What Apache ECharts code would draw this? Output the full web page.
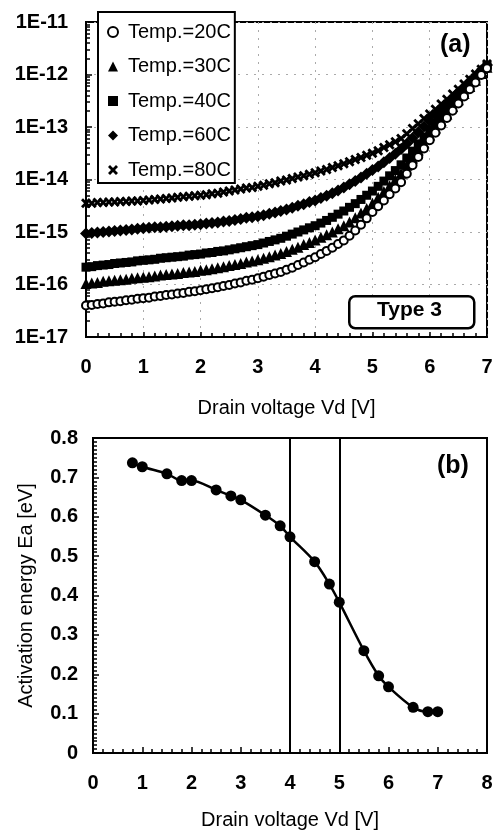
<!DOCTYPE html>
<html>
<head>
<meta charset="utf-8">
<script src="https://cdn.jsdelivr.net/npm/echarts@6/dist/echarts.min.js"></script>
<style>
  html, body { margin: 0; padding: 0; background: #fff; }
  #chart { width: 496px; height: 834px; }
</style>
</head>
<body>
<div id="chart"></div>
<script>
  // (a) drain voltage steps, V
  var vd = [0, 0.1, 0.2, 0.3, 0.4, 0.5, 0.6, 0.7, 0.8, 0.9,
    1, 1.1, 1.2, 1.3, 1.4, 1.5, 1.6, 1.7, 1.8, 1.9,
    2, 2.1, 2.2, 2.3, 2.4, 2.5, 2.6, 2.7, 2.8, 2.9,
    3, 3.1, 3.2, 3.3, 3.4, 3.5, 3.6, 3.7, 3.8, 3.9,
    4, 4.1, 4.2, 4.3, 4.4, 4.5, 4.6, 4.7, 4.8, 4.9,
    5, 5.1, 5.2, 5.3, 5.4, 5.5, 5.6, 5.7, 5.8, 5.9,
    6, 6.1, 6.2, 6.3, 6.4, 6.5, 6.6, 6.7, 6.8, 6.9, 7]

  // (a) current, stored as log10(I)
  var logI20 = [-16.40, -16.39, -16.37, -16.36, -16.34, -16.33, -16.32, -16.30, -16.29, -16.27,
    -16.26, -16.25, -16.23, -16.22, -16.20, -16.19, -16.17, -16.16, -16.14, -16.13,
    -16.11, -16.09, -16.07, -16.05, -16.03, -16.01, -15.98, -15.96, -15.93, -15.91,
    -15.88, -15.85, -15.82, -15.79, -15.76, -15.72, -15.68, -15.63, -15.58, -15.53,
    -15.48, -15.42, -15.36, -15.30, -15.23, -15.16, -15.07, -14.97, -14.86, -14.74,
    -14.62, -14.51, -14.40, -14.28, -14.17, -14.05, -13.89, -13.73, -13.57, -13.41,
    -13.25, -13.11, -12.97, -12.83, -12.69, -12.55, -12.42, -12.28, -12.15, -12.01, -11.88]
  var logI30 = [-15.98, -15.97, -15.96, -15.94, -15.93, -15.92, -15.91, -15.90, -15.88, -15.87,
    -15.86, -15.85, -15.84, -15.82, -15.81, -15.80, -15.79, -15.77, -15.76, -15.75,
    -15.73, -15.72, -15.70, -15.68, -15.66, -15.64, -15.62, -15.60, -15.57, -15.55,
    -15.53, -15.50, -15.47, -15.44, -15.41, -15.37, -15.33, -15.29, -15.24, -15.20,
    -15.15, -15.10, -15.05, -15.00, -14.94, -14.88, -14.81, -14.73, -14.64, -14.55,
    -14.45, -14.34, -14.23, -14.12, -14.00, -13.88, -13.73, -13.59, -13.44, -13.30,
    -13.15, -13.02, -12.88, -12.75, -12.61, -12.48, -12.36, -12.23, -12.11, -11.98, -11.86]
  var logI40 = [-15.67, -15.66, -15.64, -15.63, -15.62, -15.60, -15.59, -15.58, -15.57, -15.55,
    -15.54, -15.53, -15.52, -15.50, -15.49, -15.48, -15.47, -15.46, -15.44, -15.43,
    -15.42, -15.40, -15.39, -15.37, -15.36, -15.34, -15.32, -15.30, -15.28, -15.26,
    -15.24, -15.21, -15.18, -15.15, -15.12, -15.08, -15.04, -15.00, -14.96, -14.92,
    -14.88, -14.83, -14.78, -14.72, -14.66, -14.60, -14.53, -14.46, -14.38, -14.30,
    -14.22, -14.13, -14.03, -13.93, -13.83, -13.72, -13.59, -13.46, -13.32, -13.19,
    -13.05, -12.92, -12.80, -12.67, -12.55, -12.42, -12.30, -12.19, -12.07, -11.96, -11.84]
  var logI60 = [-15.03, -15.02, -15.01, -15.00, -14.99, -14.98, -14.97, -14.96, -14.95, -14.94,
    -14.93, -14.92, -14.91, -14.91, -14.90, -14.89, -14.88, -14.87, -14.87, -14.86,
    -14.85, -14.84, -14.83, -14.82, -14.80, -14.79, -14.77, -14.75, -14.73, -14.72,
    -14.70, -14.68, -14.65, -14.63, -14.60, -14.57, -14.54, -14.50, -14.47, -14.43,
    -14.40, -14.35, -14.31, -14.26, -14.21, -14.15, -14.09, -14.03, -13.96, -13.89,
    -13.82, -13.75, -13.67, -13.59, -13.51, -13.42, -13.32, -13.21, -13.10, -12.99,
    -12.88, -12.77, -12.66, -12.55, -12.45, -12.34, -12.24, -12.13, -12.03, -11.92, -11.82]
  var logI80 = [-14.45, -14.45, -14.44, -14.44, -14.43, -14.43, -14.42, -14.42, -14.41, -14.41,
    -14.40, -14.39, -14.38, -14.37, -14.36, -14.35, -14.34, -14.33, -14.32, -14.31,
    -14.30, -14.29, -14.27, -14.26, -14.24, -14.22, -14.20, -14.18, -14.16, -14.15,
    -14.13, -14.11, -14.08, -14.06, -14.03, -14.01, -13.98, -13.95, -13.93, -13.90,
    -13.87, -13.84, -13.81, -13.77, -13.74, -13.70, -13.66, -13.62, -13.58, -13.54,
    -13.50, -13.45, -13.39, -13.34, -13.28, -13.22, -13.13, -13.03, -12.94, -12.84,
    -12.75, -12.66, -12.56, -12.47, -12.37, -12.28, -12.18, -12.09, -11.99, -11.90, -11.80]

  var tempNames = ['Temp.=20C', 'Temp.=30C', 'Temp.=40C', 'Temp.=60C', 'Temp.=80C']

  // (b) activation energy
  var vdEa = [0.8, 1.0, 1.5, 1.8, 2.0, 2.5, 2.8, 3.0, 3.5, 3.8, 4.0, 4.5, 4.8, 5.0, 5.5, 5.8, 6.0, 6.5, 6.8, 7.0]
  var ea = [0.737, 0.727, 0.709, 0.692, 0.692, 0.668, 0.653, 0.643, 0.604, 0.577,
    0.549, 0.486, 0.429, 0.383, 0.260, 0.196, 0.168, 0.116, 0.105, 0.105]
  var vLines = [4, 5]

  var FONT = '"Liberation Sans", Arial, sans-serif'
  var crossPath = 'path://M0,2L2,0L5,3L8,0L10,2L7,5L10,8L8,10L5,7L2,10L0,8L3,5Z'

  function pairs(xs, logs) {
    return xs.map(function (x, i) { return [x, Math.pow(10, logs[i])] })
  }
  function pairsLin(xs, ys) {
    return xs.map(function (x, i) { return [x, ys[i]] })
  }

  var myChart = echarts.init(document.getElementById('chart'))
  var tickLabel = { color: '#000', fontSize: 20, fontWeight: 'bold', fontFamily: FONT }
  var axisName = { color: '#000', fontSize: 20, fontFamily: FONT }

  var option = {
    animation: false,
    backgroundColor: '#fff',
    grid: [
      { left: 86, right: 9, top: 22, height: 315, show: true, borderColor: '#000', borderWidth: 2 },
      { left: 93, right: 9, top: 438, height: 315, show: true, borderColor: '#000', borderWidth: 2 }
    ],
    legend: {
      data: tempNames,
      orient: 'vertical',
      left: 98,
      top: 12,
      padding: [10, 4, 3, 9],
      itemGap: 14.5,
      itemWidth: 10,
      itemHeight: 10,
      selectedMode: false,
      backgroundColor: '#fff',
      borderColor: '#000',
      borderWidth: 2,
      z: 20,
      textStyle: { color: '#000', fontSize: 20, fontFamily: FONT, padding: [0, 0, 0, 5] }
    },
    xAxis: [{
      gridIndex: 0, type: 'value', min: 0, max: 7, interval: 1,
      name: 'Drain voltage Vd [V]', nameLocation: 'middle', nameGap: 61, nameTextStyle: axisName,
      axisLine: { lineStyle: { color: '#000', width: 2 } },
      axisTick: { inside: true, length: 5, lineStyle: { color: '#000', width: 1.5 } },
      minorTick: { show: true, splitNumber: 5, length: 4, lineStyle: { color: '#000', width: 1.5 } },
      axisLabel: Object.assign({ margin: 20 }, tickLabel),
      splitLine: { show: true, lineStyle: { color: '#aaa', type: [2, 6] } }
    }, {
      gridIndex: 1, type: 'value', min: 0, max: 8, interval: 1,
      name: 'Drain voltage Vd [V]', nameLocation: 'middle', nameGap: 57, nameTextStyle: axisName,
      axisLine: { lineStyle: { color: '#000', width: 2 } },
      axisTick: { inside: true, length: 6, lineStyle: { color: '#000', width: 1.5 } },
      minorTick: { show: true, splitNumber: 5, length: 4, lineStyle: { color: '#000', width: 1.5 } },
      axisLabel: Object.assign({ margin: 20 }, tickLabel),
      splitLine: { show: false }
    }],
    yAxis: [{
      gridIndex: 0, type: 'log', logBase: 10, min: 1e-17, max: 1e-11,
      axisLine: { lineStyle: { color: '#000', width: 2 } },
      axisTick: { inside: true, length: 6, lineStyle: { color: '#000', width: 1.5 } },
      minorTick: { show: true, splitNumber: 9, length: 4, lineStyle: { color: '#000', width: 1.5 } },
      axisLabel: Object.assign({
        margin: 18,
        formatter: function (v) { return '1E' + Math.round(Math.log10(v)) }
      }, tickLabel),
      splitLine: { show: true, lineStyle: { color: '#aaa', type: [2, 6] } }
    }, {
      gridIndex: 1, type: 'value', min: 0, max: 0.8, interval: 0.1,
      name: 'Activation energy Ea [eV]', nameLocation: 'middle', nameGap: 57, nameTextStyle: axisName,
      axisLine: { lineStyle: { color: '#000', width: 2 } },
      axisTick: { inside: true, length: 6, lineStyle: { color: '#000', width: 1.5 } },
      minorTick: { show: true, splitNumber: 10, length: 4, lineStyle: { color: '#000', width: 1.5 } },
      axisLabel: Object.assign({ margin: 15 }, tickLabel),
      splitLine: { show: false }
    }],
    series: [
      { name: tempNames[4], type: 'scatter', xAxisIndex: 0, yAxisIndex: 0, data: pairs(vd, logI80),
        symbol: crossPath, symbolSize: 10, itemStyle: { color: '#000', opacity: 1 } },
      { name: tempNames[3], type: 'scatter', xAxisIndex: 0, yAxisIndex: 0, data: pairs(vd, logI60),
        symbol: 'diamond', symbolSize: 12, itemStyle: { color: '#000', opacity: 1 } },
      { name: tempNames[2], type: 'scatter', xAxisIndex: 0, yAxisIndex: 0, data: pairs(vd, logI40),
        symbol: 'rect', symbolSize: 9, itemStyle: { color: '#000', opacity: 1 } },
      { name: tempNames[1], type: 'scatter', xAxisIndex: 0, yAxisIndex: 0, data: pairs(vd, logI30),
        symbol: 'triangle', symbolSize: 11, itemStyle: { color: '#000', opacity: 1 } },
      { name: tempNames[0], type: 'scatter', xAxisIndex: 0, yAxisIndex: 0, data: pairs(vd, logI20),
        symbol: 'emptyCircle', symbolSize: 8, itemStyle: { color: '#000', borderColor: '#000', borderWidth: 1.5, opacity: 1 } },
      {
        name: 'Ea', type: 'line', xAxisIndex: 1, yAxisIndex: 1, data: pairsLin(vdEa, ea),
        smooth: 0.3, symbol: 'circle', symbolSize: 11,
        lineStyle: { color: '#000', width: 2.5 }, itemStyle: { color: '#000' },
        markLine: {
          silent: true, symbol: 'none', label: { show: false },
          lineStyle: { color: '#000', width: 2, type: 'solid' },
          data: vLines.map(function (v) { return { xAxis: v } })
        }
      }
    ],
    graphic: [
      { type: 'text', left: 440, top: 33, z: 30,
        style: { text: '(a)', font: 'bold 25px ' + FONT, fill: '#000' } },
      { type: 'text', left: 437, top: 454, z: 30,
        style: { text: '(b)', font: 'bold 25px ' + FONT, fill: '#000' } },
      { type: 'rect', left: 348, top: 295, z: 30,
        shape: { width: 125, height: 32, r: 6 },
        style: { fill: '#fff', stroke: '#000', lineWidth: 2.5 } },
      { type: 'text', left: 377, top: 300, z: 31,
        style: { text: 'Type 3', font: 'bold 21px ' + FONT, fill: '#000' } }
    ]
  }

  option && myChart.setOption(option)
  window.addEventListener('resize', myChart.resize)
</script>
</body>
</html>
